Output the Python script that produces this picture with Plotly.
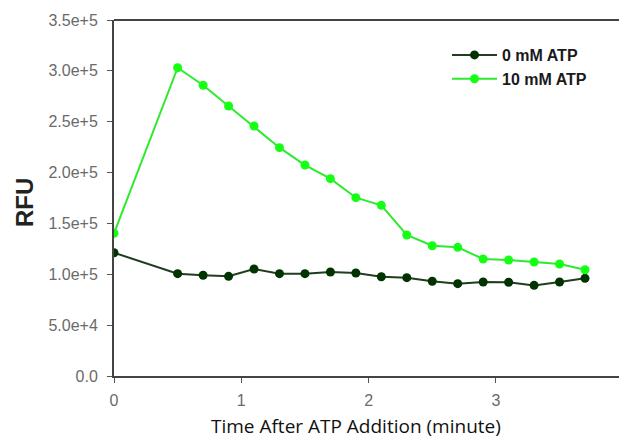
import plotly.graph_objects as go

time_min = [0, 0.5, 0.7, 0.9, 1.1, 1.3, 1.5, 1.7, 1.9, 2.1, 2.3, 2.5, 2.7, 2.9, 3.1, 3.3, 3.5, 3.7]
rfu_0mM = [121200, 100600, 99000, 98000, 105200, 100600, 100600, 102200, 101300, 97600,
           96700, 93100, 90800, 92400, 92200, 89100, 92400, 96000]
rfu_10mM = [140300, 303100, 285800, 265400, 245800, 224500, 207400, 194000, 175300, 167800,
            138600, 128100, 126500, 115000, 114000, 112100, 110100, 104500]
series_names = ["0 mM ATP", "10 mM ATP"]
y_ticks = [0, 50000, 100000, 150000, 200000, 250000, 300000, 350000]
y_tick_labels = ["0.0", "5.0e+4", "1.0e+5", "1.5e+5", "2.0e+5", "2.5e+5", "3.0e+5", "3.5e+5"]
x_ticks = [0, 1, 2, 3]
x_title = "Time After ATP Addition (minute)"
y_title = "RFU"

W, H = 619, 440
L, T, B = 114, 20, 64
PW, PH = W - L, H - T - B

fig = go.Figure()
fig.add_trace(go.Scatter(x=time_min, y=rfu_0mM, name=series_names[0], mode="lines+markers",
                         line=dict(color="#1f3d1f", width=2),
                         marker=dict(color="#003300", size=9)))
fig.add_trace(go.Scatter(x=time_min, y=rfu_10mM, name=series_names[1], mode="lines+markers",
                         line=dict(color="#2eea2e", width=2),
                         marker=dict(color="#14ff14", size=9)))

fig.update_layout(
    width=W, height=H,
    margin=dict(l=L, r=0, t=T, b=B, autoexpand=False),
    paper_bgcolor="white", plot_bgcolor="white",
    showlegend=True,
    legend=dict(x=(447 - L) / PW, y=(376 - 38) / PH, xanchor="left", yanchor="top",
                font=dict(family="Liberation Sans, Arial", size=16, color="#1a1a1a", weight="bold"),
                bgcolor="rgba(0,0,0,0)", tracegroupgap=0, itemwidth=45),
    font=dict(family="Liberation Sans, Arial", color="#555"),
)
fig.update_xaxes(range=[0, PW / 127.3], tickvals=x_ticks, showgrid=False, zeroline=False,
                 automargin=False,
                 showline=True, linecolor="#444", linewidth=2, ticks="outside", ticklen=5,
                 tickcolor="#555", tickfont=dict(size=16, color="#6a6a6a"), ticklabelstandoff=4)
fig.update_yaxes(range=[0, 350000], tickvals=y_ticks, ticktext=y_tick_labels, showgrid=False,
                 automargin=False,
                 zeroline=False, showline=True, linecolor="#444", linewidth=2, ticks="outside",
                 ticklen=5, tickcolor="#555", tickfont=dict(size=16, color="#6a6a6a"),
                 ticklabelstandoff=6)
fig.add_shape(type="line", xref="paper", yref="paper", x0=0, x1=1, y0=1, y1=1,
              line=dict(color="#444", width=2))
fig.add_annotation(text="<b>" + y_title + "</b>", xref="paper", yref="paper",
                   x=(24 - L) / PW, y=(376 - 203) / PH, showarrow=False, textangle=-90,
                   xanchor="center", yanchor="middle",
                   font=dict(family="Liberation Sans, Arial", size=24, color="#222"))
fig.add_annotation(text=x_title, xref="paper", yref="paper",
                   x=(356 - L) / PW, y=(376 - 426) / PH, showarrow=False,
                   xanchor="center", yanchor="middle",
                   font=dict(family="Open Sans, Noto Sans", size=19, color="#111"))
fig.add_annotation(text="4", xref="paper", yref="paper",
                   x=(624 - L) / PW, y=(376 - 397) / PH, showarrow=False,
                   xanchor="center", yanchor="middle",
                   font=dict(family="Liberation Sans, Arial", size=16, color="#6a6a6a"))

fig.write_html("out.html", config={"displayModeBar": False},
               post_script="document.body.style.margin='0';document.body.style.overflow='hidden';")
